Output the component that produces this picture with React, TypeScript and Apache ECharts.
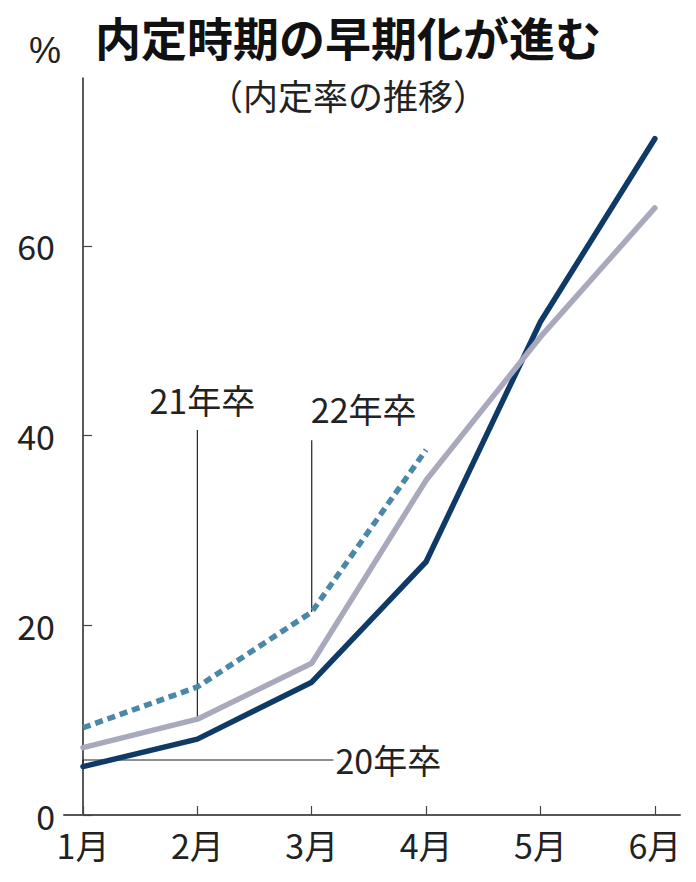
import React, { useEffect, useRef } from 'react';
import * as echarts from 'echarts';

const months = ['1月', '2月', '3月', '4月', '5月', '6月'];
const grad20 = [5.1, 8.0, 14.0, 26.7, 52.0, 71.3];
const grad21 = [7.1, 10.1, 16.0, 35.3, 50.4, 64.0];
const grad22 = [9.2, 13.5, 21.4, 38.5];
const yTicks = [0, 20, 40, 60];
const xTicks = [0, 1, 2, 3, 4, 5];

const FONT = "'Noto Sans CJK JP', sans-serif";
const CJK = "'Noto Sans CJK JP', sans-serif";

const toPairs = (arr: number[]) => arr.map((v, i) => [i, v]);

const App: React.FC = () => {
  const chartRef = useRef<HTMLDivElement>(null);

  useEffect(() => {
    if (!chartRef.current) return;
    const chart = echarts.init(chartRef.current, null, { renderer: 'svg' });

    chart.setOption({
      animation: false,
      backgroundColor: '#fff',
      title: [
        {
          text: '内定時期の早期化が進む',
          left: 'center',
          top: 8,
          textStyle: { fontFamily: CJK, fontWeight: 'bold', fontSize: 46, color: '#111' },
        },
        {
          text: '（内定率の推移）',
          left: 'center',
          top: 72,
          textStyle: { fontFamily: CJK, fontWeight: 'normal', fontSize: 35, color: '#222' },
        },
      ],
      grid: { left: 64, right: 16, top: 78, bottom: 67 },
      xAxis: {
        type: 'value',
        min: -0.166,
        max: 5.22,
        axisLine: { show: true, lineStyle: { color: '#555', width: 2 } },
        axisTick: { show: true, inside: true, length: 9, customValues: xTicks, lineStyle: { color: '#444', width: 1.2 } },
        axisLabel: {
          customValues: xTicks,
          formatter: (v: number) => months[Math.round(v)],
          fontFamily: FONT,
          fontSize: 34,
          color: '#222',
          margin: 12,
        },
        splitLine: { show: false },
      },
      yAxis: {
        type: 'value',
        min: 0,
        max: 77.7,
        axisLine: { show: true, lineStyle: { color: '#222', width: 1.5 } },
        axisTick: { show: true, inside: true, length: 9, customValues: yTicks, lineStyle: { color: '#444', width: 1.2 } },
        axisLabel: { customValues: yTicks, fontFamily: FONT, fontSize: 34, color: '#222', margin: 9 },
        splitLine: { show: false },
      },
      series: [
        {
          name: '20年卒',
          type: 'line',
          data: toPairs(grad20),
          showSymbol: false,
          lineStyle: { color: '#0f3a68', width: 5.5, cap: 'round', join: 'round' },
        },
        {
          name: '21年卒',
          type: 'line',
          data: toPairs(grad21),
          showSymbol: false,
          lineStyle: { color: '#a9a9bd', width: 5.5, cap: 'round', join: 'round' },
        },
        {
          name: '22年卒',
          type: 'line',
          data: toPairs(grad22),
          showSymbol: false,
          lineStyle: { color: '#4a88a8', width: 5.5, type: [8, 5], join: 'round' },
        },
      ],
    });

    const px = (x: number, y: number) => chart.convertToPixel({ gridIndex: 0 }, [x, y]) as number[];
    const lineStyle = { stroke: '#222', lineWidth: 1.2 };
    const labelStyle = { fontFamily: FONT, fontSize: 34, fill: '#222' };

    const a21 = px(1, grad21[1]);
    const b21 = px(1, 40.6);
    const a22 = px(2, grad22[2]);
    const b22 = px(2, 39.5);
    const a20 = px(0, 5.8);
    const b20 = px(2.19, 5.8);

    chart.setOption({
      graphic: [
        { type: 'text', x: 45, y: 50, style: { fontFamily: "'Liberation Sans', sans-serif", fill: '#222', text: '%', fontSize: 36, align: 'center', verticalAlign: 'middle' } },
        { type: 'line', shape: { x1: a21[0], y1: a21[1], x2: b21[0], y2: b21[1] }, style: lineStyle },
        { type: 'text', x: b21[0] + 5, y: b21[1] - 30, style: { ...labelStyle, text: '21年卒', align: 'center', verticalAlign: 'middle' } },
        { type: 'line', shape: { x1: a22[0], y1: a22[1], x2: b22[0], y2: b22[1] }, style: lineStyle },
        { type: 'text', x: b22[0] + 52, y: b22[1] - 32, style: { ...labelStyle, text: '22年卒', align: 'center', verticalAlign: 'middle' } },
        { type: 'line', shape: { x1: a20[0], y1: a20[1], x2: b20[0], y2: b20[1] }, style: lineStyle },
        { type: 'line', shape: { x1: a20[0], y1: a20[1], x2: a20[0], y2: a20[1] + 5 }, style: lineStyle },
        { type: 'text', x: b20[0] + 2, y: b20[1], style: { ...labelStyle, text: '20年卒', align: 'left', verticalAlign: 'middle' } },
      ],
    });

    return () => {
      chart.dispose();
    };
  }, []);

  return (
    <div
      ref={chartRef}
      style={{ position: 'absolute', left: 0, top: 0, width: '696px', height: '882px' }}
    />
  );
};

export default App;
